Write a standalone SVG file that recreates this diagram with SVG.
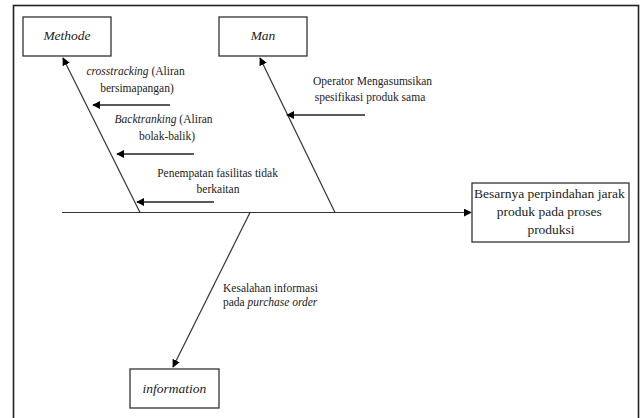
<svg xmlns="http://www.w3.org/2000/svg" width="640" height="418" viewBox="0 0 640 418">
  <style>
    .box { fill: #fff; stroke: #333; stroke-width: 1.3; }
    .line { fill: none; stroke: #333; stroke-width: 1.2; }
    .cause { fill: none; stroke: #222; stroke-width: 1.5; }
    text { fill: #222; }
    .lbl { font-size: 11.5px; }
    .head { font-size: 13.5px; font-style: italic; }
    .eff { font-size: 13.5px; }
    .it { font-style: italic; }
  </style>
  <defs>
    <marker id="arr" viewBox="0 0 10 10" refX="9" refY="5" markerWidth="8" markerHeight="8" markerUnits="userSpaceOnUse" orient="auto">
      <path d="M0,0 L10,5 L0,10 z" fill="#000"/>
    </marker>
  </defs>

  <!-- outer frame -->
  <rect x="13.5" y="5.5" width="625" height="420" fill="#fff" stroke="#222" stroke-width="1.6"/>

  <!-- connectors -->
  <g id="connectors">
    <line class="line" x1="62" y1="212.5" x2="471" y2="212.5" marker-end="url(#arr)"/>
    <line class="line" x1="140" y1="212.5" x2="63" y2="58" marker-end="url(#arr)"/>
    <line class="line" x1="335" y1="212.5" x2="260" y2="58" marker-end="url(#arr)"/>
    <line class="line" x1="250" y1="212.5" x2="173" y2="367" marker-end="url(#arr)"/>
    <line class="cause" x1="170" y1="105" x2="93" y2="105" marker-end="url(#arr)"/>
    <line class="cause" x1="194" y1="154" x2="117" y2="154" marker-end="url(#arr)"/>
    <line class="cause" x1="214" y1="202" x2="137" y2="202" marker-end="url(#arr)"/>
    <line class="cause" x1="365" y1="115" x2="287" y2="115" marker-end="url(#arr)"/>
  </g>

  <!-- category nodes -->
  <g id="methode">
    <rect class="box" x="23" y="17" width="88" height="39"/>
    <text class="head" font-family="Liberation Serif, serif" x="67" y="40" text-anchor="middle">Methode</text>
  </g>
  <g id="man">
    <rect class="box" x="219" y="17" width="88" height="39"/>
    <text class="head" font-family="Liberation Serif, serif" x="263" y="40" text-anchor="middle">Man</text>
  </g>
  <g id="information">
    <rect class="box" x="130" y="369" width="89" height="39"/>
    <text class="head" font-family="Liberation Serif, serif" x="174.5" y="393" text-anchor="middle">information</text>
  </g>

  <!-- effect node -->
  <g id="effect">
    <rect class="box" x="472" y="183" width="157" height="59"/>
    <text class="eff" font-family="Liberation Serif, serif" text-anchor="middle">
      <tspan x="551" y="198">Besarnya perpindahan jarak</tspan>
      <tspan x="551" y="216">produk pada proses</tspan>
      <tspan x="551" y="234">produksi</tspan>
    </text>
  </g>

  <!-- cause labels -->
  <g id="cause-crosstracking">
    <text class="lbl" font-family="Liberation Serif, serif" text-anchor="middle">
      <tspan x="137" y="75"><tspan class="it">crosstracking</tspan> (Aliran</tspan>
      <tspan x="137" y="92">bersimapangan)</tspan>
    </text>
  </g>
  <g id="cause-backtranking">
    <text class="lbl" font-family="Liberation Serif, serif" text-anchor="middle">
      <tspan x="165" y="123"><tspan class="it">Backtranking</tspan> (Aliran</tspan>
      <tspan x="167" y="140">bolak-balik)</tspan>
    </text>
  </g>
  <g id="cause-penempatan">
    <text class="lbl" font-family="Liberation Serif, serif" text-anchor="middle">
      <tspan x="219" y="177">Penempatan fasilitas tidak</tspan>
      <tspan x="218" y="193">berkaitan</tspan>
    </text>
  </g>
  <g id="cause-operator">
    <text class="lbl" font-family="Liberation Serif, serif" text-anchor="middle">
      <tspan x="374" y="85">Operator Mengasumsikan</tspan>
      <tspan x="370" y="101">spesifikasi produk sama</tspan>
    </text>
  </g>
  <g id="cause-kesalahan">
    <text class="lbl" font-family="Liberation Serif, serif">
      <tspan x="223" y="292">Kesalahan informasi</tspan>
      <tspan x="223" y="306">pada <tspan class="it">purchase order</tspan></tspan>
    </text>
  </g>
</svg>
